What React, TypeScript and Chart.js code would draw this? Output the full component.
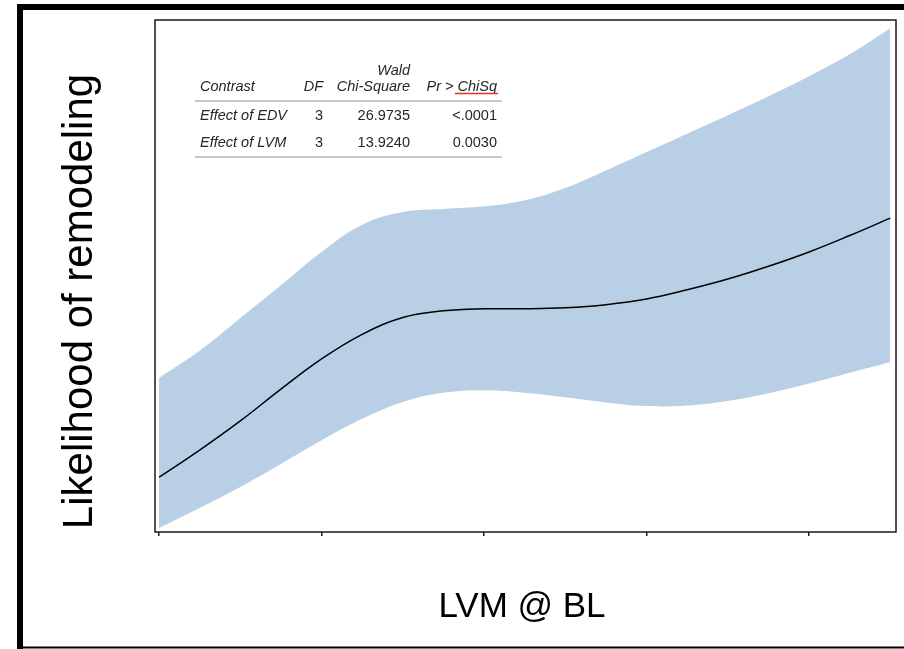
import React, { useEffect, useRef } from "react";
import { Chart, registerables } from "chart.js";

Chart.register(...registerables);

// ---- data ----
const xValues = [0, 0.25, 0.5, 0.75, 1, 1.25, 1.5, 1.75, 2, 2.25, 2.5, 2.75, 3, 3.25, 3.5, 3.75, 4, 4.25, 4.5];
const upperCI = [30.1, 35.4, 41.8, 48.2, 54.7, 60.0, 62.5, 63.1, 63.6, 64.8, 67.2, 70.6, 74.2, 77.8, 81.4, 85.1, 89.0, 93.3, 98.4];
const lowerCI = [0.8, 4.7, 8.8, 13.3, 17.9, 22.1, 25.4, 27.2, 27.7, 27.2, 26.3, 25.3, 24.6, 24.7, 25.6, 27.1, 29.0, 31.1, 33.2];
const fitted = [10.7, 16.0, 21.7, 27.9, 33.8, 38.6, 41.9, 43.2, 43.6, 43.6, 43.8, 44.4, 45.5, 47.3, 49.4, 51.9, 54.7, 57.9, 61.3];
const xTicks = [0, 1, 2, 3, 4];

const xTitle = "LVM @ BL";
const yTitle = "Likelihood of remodeling";

const tableSuperHeader = "Wald";
const tableHeaders = ["Contrast", "DF", "Chi-Square", "Pr > ChiSq"];
const tableContrasts = ["Effect of EDV", "Effect of LVM"];
const tableDF = ["3", "3"];
const tableChiSq = ["26.9735", "13.9240"];
const tablePValues = ["<.0001", "0.0030"];

const FONT = "'Liberation Sans', Arial, Helvetica, sans-serif";
const TFS = 14.5;

const decorPlugin = {
  id: "decor",
  afterDraw(chart: any) {
    const ctx = chart.ctx as CanvasRenderingContext2D;
    const a = chart.chartArea;
    ctx.save();

    // plot box
    ctx.strokeStyle = "#1a1a1a";
    ctx.lineWidth = 1.5;
    ctx.strokeRect(a.left, a.top, a.right - a.left, a.bottom - a.top);

    // outer frame
    ctx.fillStyle = "#000";
    ctx.fillRect(17, 4, 904 - 17, 6);
    ctx.fillRect(17, 4, 6, 649 - 4);
    ctx.fillRect(17, 646.5, 904 - 17, 2);

    // axis titles
    ctx.fillStyle = "#000";
    ctx.font = `35px ${FONT}`;
    ctx.textAlign = "center";
    ctx.textBaseline = "alphabetic";
    ctx.fillText(xTitle, 522, 617);

    ctx.save();
    ctx.translate(92, 301.5);
    ctx.rotate(-Math.PI / 2);
    ctx.font = `42px ${FONT}`;
    ctx.fillText(yTitle, 0, 0);
    ctx.restore();

    // table
    const colRight = [0, 323, 410, 497];
    const colLeft = 200;
    ctx.fillStyle = "#262626";
    ctx.font = `italic ${TFS}px ${FONT}`;
    ctx.textAlign = "right";
    ctx.fillText(tableSuperHeader, colRight[2], 75);
    ctx.textAlign = "left";
    ctx.fillText(tableHeaders[0], colLeft, 91);
    ctx.textAlign = "right";
    for (let i = 1; i < 4; i++) ctx.fillText(tableHeaders[i], colRight[i], 91);

    // red underline
    ctx.strokeStyle = "#e0302a";
    ctx.lineWidth = 1.5;
    ctx.beginPath();
    ctx.moveTo(455, 93.5);
    ctx.lineTo(498, 93.5);
    ctx.stroke();

    // rules
    ctx.strokeStyle = "#c8c8c8";
    ctx.lineWidth = 2;
    ctx.beginPath();
    ctx.moveTo(195, 101);
    ctx.lineTo(502, 101);
    ctx.moveTo(195, 157);
    ctx.lineTo(502, 157);
    ctx.stroke();

    const rowY = [120, 147];
    for (let r = 0; r < tableContrasts.length; r++) {
      ctx.font = `italic ${TFS}px ${FONT}`;
      ctx.textAlign = "left";
      ctx.fillText(tableContrasts[r], colLeft, rowY[r]);
      ctx.textAlign = "right";
      ctx.font = `${TFS}px ${FONT}`;
      ctx.fillText(tableDF[r], colRight[1], rowY[r]);
      ctx.fillText(tableChiSq[r], colRight[2], rowY[r]);
      ctx.fillText(tablePValues[r], colRight[3], rowY[r]);
    }

    ctx.restore();
  },
};

export default function App() {
  const ref = useRef<HTMLCanvasElement | null>(null);

  useEffect(() => {
    if (!ref.current) return;
    const pts = (ys: number[]) => xValues.map((x, i) => ({ x, y: ys[i] }));
    const chart = new Chart(ref.current, {
      type: "line",
      data: {
        datasets: [
          {
            label: "Predicted",
            data: pts(fitted),
            borderColor: "#000",
            borderWidth: 1.5,
            pointRadius: 0,
            fill: false,
            tension: 0.4,
          },
          {
            label: "Lower",
            data: pts(lowerCI),
            borderWidth: 0,
            borderColor: "rgba(0,0,0,0)",
            pointRadius: 0,
            fill: false,
            tension: 0.4,
          },
          {
            label: "Upper",
            data: pts(upperCI),
            borderWidth: 0,
            borderColor: "rgba(0,0,0,0)",
            backgroundColor: "#b9cfe6",
            pointRadius: 0,
            fill: "-1",
            tension: 0.4,
          },
        ],
      },
      options: {
        responsive: false,
        animation: false,
        layout: { padding: { left: 155, top: 20, right: 8, bottom: 113 } },
        plugins: {
          legend: { display: false },
          tooltip: { enabled: false },
          filler: { drawTime: "beforeDatasetsDraw" },
        },
        scales: {
          x: {
            type: "linear",
            min: -0.025,
            max: 4.535,
            afterBuildTicks: (scale: any) => {
              scale.ticks = xTicks.map((v) => ({ value: v }));
            },
            ticks: { display: false },
            grid: {
              display: true,
              drawOnChartArea: false,
              drawTicks: true,
              tickLength: 4,
              color: "#222",
              lineWidth: 1.5,
            },
            border: { display: false },
          },
          y: {
            type: "linear",
            min: 0,
            max: 100,
            display: false,
          },
        },
      },
      plugins: [decorPlugin],
    } as any);
    return () => chart.destroy();
  }, []);

  return (
    <div style={{ position: "fixed", left: 0, top: 0, width: 904, height: 649, background: "#fff" }}>
      <canvas ref={ref} width={904} height={649} style={{ display: "block", width: 904, height: 649 }} />
    </div>
  );
}
